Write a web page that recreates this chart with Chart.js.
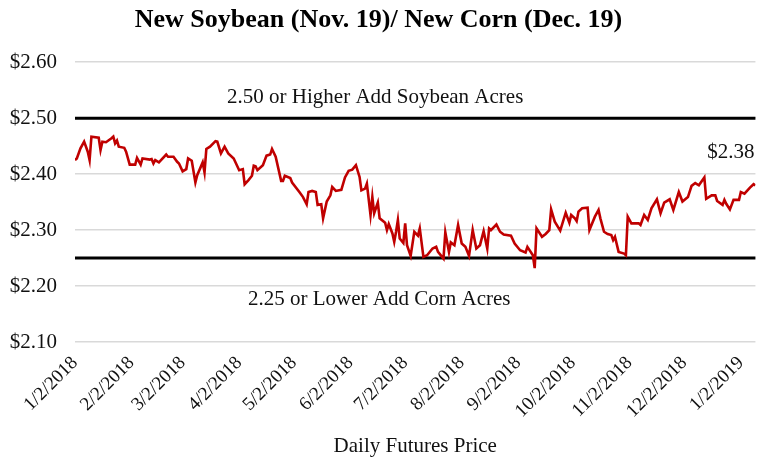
<!DOCTYPE html>
<html>
<head>
<meta charset="utf-8">
<title>New Soybean / New Corn</title>
<script src="https://cdn.jsdelivr.net/npm/chart.js@4/dist/chart.umd.min.js"></script>
<style>
    html, body { margin: 0; padding: 0; background: #ffffff; }
    #wrap { position: relative; width: 759px; height: 459px; }
</style>
</head>
<body>
<div id="wrap"><canvas id="ratioChart"></canvas></div>
<script>
// Ngày giao dịch, tính theo số ngày kể từ 1/2/2018
const dayOffsets = [
    0, 1, 3, 5, 7, 8, 9, 13, 14, 15, 17, 20, 21, 22, 23, 24, 27, 28, 30, 33,
    34, 36, 37, 41, 42, 43, 44, 46, 50, 51, 54, 56, 57, 59, 61, 62, 64, 66, 67, 70,
    71, 72, 74, 77, 78, 80, 82, 84, 87, 90, 92, 93, 95, 97, 98, 99, 100, 103, 105, 107,
    108, 110, 113, 114, 115, 118, 119, 123, 125, 127, 128, 130, 132, 133, 135, 136, 138, 140, 141, 143,
    146, 148, 150, 152, 154, 156, 157, 159, 160, 162, 163, 164, 166, 167, 170, 171, 172, 174, 175, 176,
    177, 178, 180, 181, 182, 184, 186, 188, 189, 191, 193, 196, 198, 199, 202, 203, 205, 206, 208, 210,
    212, 214, 216, 218, 220, 222, 224, 226, 227, 228, 231, 233, 235, 239, 241, 244, 247, 248, 251, 252,
    253, 256, 258, 260, 261, 263, 266, 269, 271, 272, 274, 275, 276, 278, 281, 282, 285, 287, 288, 290,
    292, 294, 295, 296, 298, 301, 302, 303, 305, 309, 310, 312, 314, 316, 319, 321, 323, 326, 328, 331,
    333, 336, 338, 340, 342, 345, 346, 349, 351, 352, 355, 356, 357, 359, 361, 364, 365, 367, 370, 372,
    373
];

// Tỷ lệ giá đậu tương mới / ngô mới
const ratioValues = [
    2.425, 2.428, 2.446, 2.458, 2.440, 2.425, 2.467, 2.465, 2.443, 2.458, 2.457, 2.464, 2.467, 2.455, 2.460, 2.449, 2.447, 2.440, 2.417, 2.417,
    2.429, 2.417, 2.428, 2.426, 2.427, 2.419, 2.425, 2.421, 2.435, 2.431, 2.431, 2.422, 2.419, 2.405, 2.409, 2.428, 2.424, 2.385, 2.398, 2.421,
    2.403, 2.445, 2.449, 2.459, 2.458, 2.437, 2.449, 2.437, 2.428, 2.407, 2.409, 2.382, 2.389, 2.397, 2.415, 2.414, 2.407, 2.416, 2.433, 2.435,
    2.445, 2.431, 2.388, 2.388, 2.397, 2.393, 2.385, 2.368, 2.359, 2.346, 2.368, 2.370, 2.368, 2.345, 2.346, 2.321, 2.351, 2.362, 2.377, 2.370,
    2.372, 2.394, 2.406, 2.408, 2.416, 2.395, 2.371, 2.374, 2.383, 2.327, 2.359, 2.330, 2.349, 2.321, 2.313, 2.300, 2.311, 2.294, 2.279, 2.297,
    2.318, 2.285, 2.277, 2.312, 2.273, 2.254, 2.297, 2.290, 2.303, 2.252, 2.255, 2.267, 2.270, 2.261, 2.249, 2.296, 2.261, 2.278, 2.273, 2.309,
    2.276, 2.270, 2.254, 2.300, 2.267, 2.273, 2.298, 2.267, 2.303, 2.300, 2.310, 2.297, 2.292, 2.290, 2.276, 2.264, 2.260, 2.270, 2.255, 2.232,
    2.303, 2.288, 2.293, 2.300, 2.337, 2.315, 2.299, 2.331, 2.313, 2.327, 2.321, 2.316, 2.333, 2.339, 2.340, 2.300, 2.324, 2.336, 2.321, 2.297,
    2.293, 2.291, 2.282, 2.288, 2.261, 2.258, 2.255, 2.324, 2.312, 2.312, 2.309, 2.327, 2.318, 2.339, 2.355, 2.330, 2.349, 2.355, 2.336, 2.368,
    2.351, 2.359, 2.379, 2.384, 2.380, 2.394, 2.356, 2.362, 2.362, 2.352, 2.345, 2.354, 2.347, 2.337, 2.354, 2.354, 2.368, 2.365, 2.376, 2.382,
    2.380
];

// Vạch trục X: ngày 2 mỗi tháng
const monthTicks = [0, 31, 59, 90, 120, 151, 181, 212, 243, 273, 304, 334, 365];
const monthLabels = [
    "1/2/2018", "2/2/2018", "3/2/2018", "4/2/2018", "5/2/2018", "6/2/2018", "7/2/2018",
    "8/2/2018", "9/2/2018", "10/2/2018", "11/2/2018", "12/2/2018", "1/2/2019"
];

// Ngưỡng quyết định diện tích gieo trồng
const soyThreshold = 2.50;
const cornThreshold = 2.25;
const soyNote = "2.50 or Higher Add Soybean Acres";
const cornNote = "2.25 or Lower Add Corn Acres";

const SERIF = "'Liberation Serif', 'Times New Roman', serif";

/* ==========================
   PLUGIN: đường ngưỡng + chú thích
========================== */
const thresholdPlugin = {
    id: "thresholds",
    beforeDatasetsDraw(chart) {
        const { ctx, chartArea, scales } = chart;
        ctx.save();
        ctx.strokeStyle = "#000000";
        ctx.lineWidth = 3;
        [soyThreshold, cornThreshold].forEach(v => {
            const py = scales.y.getPixelForValue(v);
            ctx.beginPath();
            ctx.moveTo(chartArea.left, py);
            ctx.lineTo(chartArea.right, py);
            ctx.stroke();
        });
        ctx.restore();
    },
    afterDatasetsDraw(chart) {
        const { ctx, chartArea, scales } = chart;
        const midX = (chartArea.left + chartArea.right) / 2;
        ctx.save();
        ctx.fillStyle = "#111111";
        ctx.font = "21px " + SERIF;
        ctx.textBaseline = "middle";
        ctx.textAlign = "center";
        ctx.fillText(soyNote, midX - 40, scales.y.getPixelForValue(soyThreshold) - 21);
        ctx.fillText(cornNote, midX - 36, scales.y.getPixelForValue(cornThreshold) + 41);

        // Giá trị cuối cùng của chuỗi
        const last = ratioValues.length - 1;
        const lx = scales.x.getPixelForValue(dayOffsets[last]);
        const ly = scales.y.getPixelForValue(ratioValues[last]);
        ctx.textAlign = "right";
        ctx.fillText("$" + ratioValues[last].toFixed(2), lx - 1, ly - 33);
        ctx.restore();
    }
};

/* ==========================
   VẼ BIỂU ĐỒ
========================== */
const ctx = document.getElementById("ratioChart").getContext("2d");

new Chart(ctx, {
    type: "line",
    data: {
        datasets: [{
            label: "Soybean / Corn",
            data: dayOffsets.map((d, i) => ({ x: d, y: ratioValues[i] })),
            borderColor: "#C00000",
            borderWidth: 2.6,
            pointRadius: 0,
            tension: 0,
            fill: false
        }]
    },
    options: {
        responsive: true,
        maintainAspectRatio: false,
        animation: false,
        layout: { padding: { left: 0, right: 2, top: 0, bottom: 0 } },
        plugins: {
            legend: { display: false },
            tooltip: { enabled: false },
            title: {
                display: true,
                text: "New Soybean (Nov. 19)/ New Corn (Dec. 19)",
                color: "#000000",
                font: { family: SERIF, size: 26, weight: "bold" },
                padding: { top: 5, bottom: 26 }
            }
        },
        scales: {
            x: {
                type: "linear",
                min: 0,
                max: 373,
                afterBuildTicks: scale => {
                    scale.ticks = monthTicks.map(v => ({ value: v }));
                },
                afterFit: scale => { scale.height = 117; },
                ticks: {
                    autoSkip: false,
                    maxRotation: 45,
                    minRotation: 45,
                    padding: 2,
                    color: "#111111",
                    font: { family: SERIF, size: 19 },
                    callback: value => monthLabels[monthTicks.indexOf(value)]
                },
                grid: { display: false },
                border: { display: false },
                title: {
                    display: true,
                    text: "Daily Futures Price",
                    color: "#111111",
                    font: { family: SERIF, size: 21 },
                    padding: { top: 0, bottom: 0 }
                }
            },
            y: {
                min: 2.10,
                max: 2.60,
                afterFit: scale => { scale.width = 75; },
                ticks: {
                    stepSize: 0.10,
                    padding: 18,
                    color: "#111111",
                    font: { family: SERIF, size: 21 },
                    callback: value => "$" + Number(value).toFixed(2)
                },
                grid: { color: "#d9d9d9", lineWidth: 1.5, drawTicks: false },
                border: { display: false }
            }
        }
    },
    plugins: [thresholdPlugin]
});
</script>
</body>
</html>
